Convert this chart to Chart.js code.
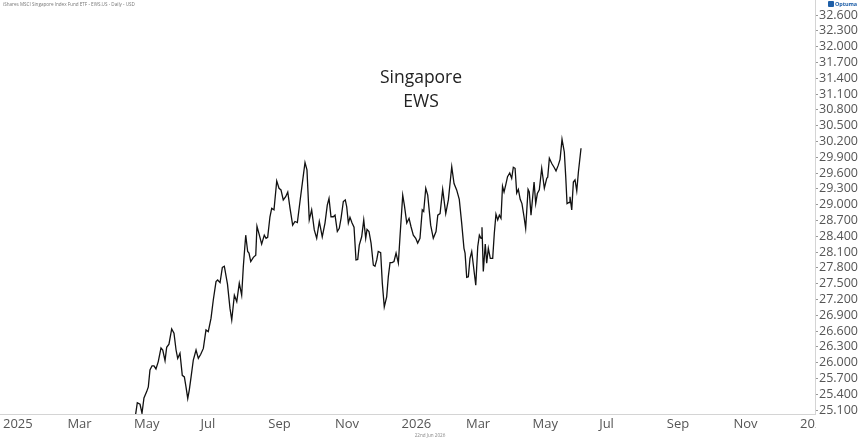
<!DOCTYPE html>
<html lang="en">
<head>
  <meta charset="UTF-8">
  <title>Singapore EWS</title>
  <script src="https://cdn.jsdelivr.net/npm/chart.js"></script>
  <style>
    body { margin: 0; background: #fff; font-family: "Open Sans", sans-serif; }
    .wrap { position: relative; width: 860px; height: 441px; }
    .info { position: absolute; left: 3px; top: 1px; font-size: 4.6px; color: #777; white-space: nowrap; }
    .title { position: absolute; left: 321px; width: 200px; top: 64px; text-align: center; font-size: 17.5px; line-height: 24px; color: #222; }
    .foot { position: absolute; left: 380px; width: 100px; top: 432px; text-align: center; font-size: 4.6px; color: #888; }
    .logo { position: absolute; left: 828px; top: 0px; font-size: 5.5px; font-weight: bold; color: #1f5fa8; white-space: nowrap; letter-spacing: -0.1px; }
    .logo span { display: inline-block; width: 6px; height: 6px; background: #1f5fa8; border-radius: 1px; margin-right: 1px; vertical-align: -1px; }
  </style>
</head>
<body>
  <div class="wrap">
    <canvas id="ewsChart" width="860" height="441"></canvas>
    <div class="info">iShares MSCI Singapore Index Fund ETF - EWS.US - Daily - USD</div>
    <div class="title">Singapore<br>EWS</div>
    <div class="foot">22nd Jun 2026</div>
    <div class="logo"><span></span>Optuma</div>
  </div>
  <script>
    // days counted from 1 Jan 2025
    const days = [121,123,125.5,127.3,129.1,131.6,133.1,134.6,136.5,138.3,
      140.1,142.2,144.7,146.3,148.4,149.9,152,154.5,156.6,158.5,
      160,162.1,164.2,166.1,167.6,169.2,170.6,172.2,174.3,176.8,
      178.9,181.1,183.5,185.9,188,190.5,192.6,195.1,196.6,198.8,
      200.9,202.7,205.6,207.9,209.5,211.9,214.1,216.4,218.6,220.1,
      222.3,224.1,225.3,226.9,229.3,231.5,232.6,234.8,236.9,239.3,
      240.9,242.4,244.5,246.1,248.2,250.7,252.8,254.6,256.7,258.9,
      260.8,262.9,265.3,267.4,269.6,272,274.1,276.6,278.4,280.5,
      282.7,285.1,287.3,289.7,292.4,294.9,297,298.6,300.4,302.5,
      304.1,306.2,308,309.6,311.7,313.5,314.8,316.3,317.8,319.7,
      321.5,323.3,324.9,326.3,328.5,330.4,332.2,333.4,335.2,337.1,
      339.2,340.7,342.3,343.7,345.9,347.4,349.2,351.4,352.9,354.5,
      356.3,358.1,360,362.1,363.6,366.1,367.6,369.8,371.9,373.7,
      375.8,378,379.8,381.9,384,385.3,387.2,389,391.7,394.1,
      396.6,398.2,400.3,402.7,405.5,407.9,411,413.1,415.5,417.9,
      420.1,422.2,423.2,424.7,426.2,427.7,429.3,430.8,433,434.8,
      436.3,437.8,438.7,439.9,441.7,443,444.5,446.3,448.5,450,
      451.5,453.1,454.6,456.1,457.5,458.9,460.4,462.1,464.1,465.9,
      467.4,469,470.5,472,473.7,475.3,477.2,478.7,480.9,482,
      483.6,486.4,487.9,489.4,491.2,493.4,495.8,498,498.9,500.4,
      502.6,504.7,506.5,508.6,510.2,512,514.1,515.4,516.6,518.4,
      519.3,520.9,522.4,523.9,525.5,527,529.4];

    const prices = [24.95,25.24,25.21,25.04,25.33,25.45,25.54,25.86,25.94,25.94,
      25.88,26.02,26.28,26.24,26.04,26.29,26.35,26.64,26.56,26.24,
      26.08,26.18,25.76,25.73,25.54,25.32,25.48,25.72,26.05,26.24,
      26.08,26.16,26.27,26.62,26.59,26.84,27.19,27.54,27.57,27.52,
      27.81,27.83,27.49,27.03,26.81,27.28,27.16,27.51,27.28,27.82,
      28.42,28.11,28.08,27.92,28.00,28.04,28.59,28.42,28.25,28.42,
      28.36,28.38,28.77,28.93,28.90,29.45,29.31,29.28,29.09,29.15,
      29.24,28.93,28.61,28.68,28.66,29.06,29.40,29.80,29.66,28.71,
      28.90,28.52,28.36,28.68,28.39,28.65,28.99,29.12,28.77,28.77,
      28.80,28.49,28.55,28.74,29.06,29.09,28.96,28.65,28.76,28.65,
      28.57,27.95,27.96,28.23,28.39,28.71,28.36,28.53,28.49,28.27,
      27.85,27.83,27.95,28.11,28.09,27.51,27.06,27.25,27.63,27.90,
      27.90,27.92,28.08,27.89,28.39,29.18,28.99,28.65,28.74,28.58,
      28.42,28.36,28.27,28.36,28.90,28.87,29.31,29.18,28.61,28.36,
      28.49,28.80,28.83,29.29,28.83,29.09,29.72,29.40,29.28,29.10,
      28.65,28.17,28.08,27.62,27.63,27.98,28.11,27.85,27.47,28.20,
      28.42,28.36,28.57,27.73,28.25,27.89,28.17,27.98,27.98,28.46,
      28.82,28.71,28.80,28.74,29.35,29.24,29.37,29.53,29.60,29.50,
      29.71,29.69,29.22,29.29,29.10,29.02,28.77,28.55,29.29,29.24,
      28.80,29.43,29.02,29.21,29.28,29.69,29.31,29.50,29.52,29.88,
      29.78,29.71,29.64,29.75,29.86,30.24,30.00,29.53,29.02,29.04,
      29.15,28.90,29.43,29.47,29.26,29.62,30.07];

    const monthTicks = [0, 59, 120, 181, 243, 304, 365, 424, 485, 546, 608, 669, 730];
    const monthLabels = ['2025', 'Mar', 'May', 'Jul', 'Sep', 'Nov', '2026', 'Mar', 'May', 'Jul', 'Sep', 'Nov', '2027'];

    const priceTicks = [25.1, 25.4, 25.7, 26.0, 26.3, 26.6, 26.9, 27.2, 27.5, 27.8, 28.1, 28.4, 28.7,
      29.0, 29.3, 29.6, 29.9, 30.2, 30.5, 30.8, 31.1, 31.4, 31.7, 32.0, 32.3, 32.6];

    // hide the part of the last month label that runs under the price axis
    const cutLabel = {
      id: 'cutLabel',
      afterDraw(chart) {
        const c = chart.ctx;
        const a = chart.chartArea;
        c.save();
        c.fillStyle = '#fff';
        c.fillRect(a.right + 1, a.bottom + 1, chart.width - a.right, chart.height - a.bottom);
        c.restore();
      }
    };

    new Chart(document.getElementById('ewsChart'), {
      type: 'line',
      data: {
        datasets: [{
          data: days.map((d, i) => ({ x: d, y: prices[i] })),
          borderColor: '#111',
          borderWidth: 1.3,
          pointRadius: 0,
          tension: 0,
          fill: false
        }]
      },
      options: {
        responsive: false,
        animation: false,
        devicePixelRatio: 1,
        layout: { padding: 0 },
        plugins: { legend: { display: false }, tooltip: { enabled: false } },
        scales: {
          x: {
            type: 'linear',
            min: -2.75,
            max: 743.7,
            afterBuildTicks: s => { s.ticks = monthTicks.map(v => ({ value: v })); },
            afterFit: s => { s.height = 27; s.paddingLeft = 0; s.paddingRight = 0; },
            ticks: {
              autoSkip: false,
              maxRotation: 0,
              align: 'start',
              padding: 2,
              color: '#555',
              font: { family: 'Open Sans', size: 13 },
              callback: (v, i) => monthLabels[i]
            },
            grid: { display: false, drawTicks: false },
            border: { display: true, color: '#d4d4d4' }
          },
          y: {
            type: 'linear',
            position: 'right',
            min: 25.025,
            max: 32.885,
            afterBuildTicks: s => { s.ticks = priceTicks.map(v => ({ value: v })); },
            afterFit: s => { s.width = 45; s.paddingTop = 0; s.paddingBottom = 0; },
            ticks: {
              autoSkip: false,
              padding: 1,
              color: '#555',
              font: { family: 'Open Sans', size: 12.5 },
              callback: v => v.toFixed(3)
            },
            grid: { drawOnChartArea: false, drawTicks: true, tickLength: 3, color: '#999' },
            border: { display: true, color: '#d4d4d4' }
          }
        }
      },
      plugins: [cutLabel]
    });
  </script>
</body>
</html>
